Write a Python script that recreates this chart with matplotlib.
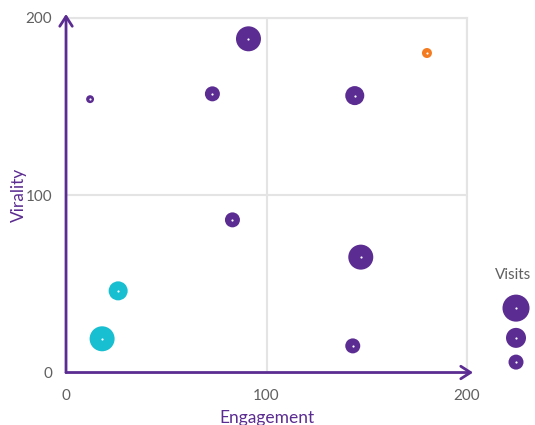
import numpy as np
import matplotlib.pyplot as plt

engagement = [12, 73, 91, 144, 180, 83, 147, 143, 26, 18]
virality = [154, 157, 188, 156, 180, 86, 65, 15, 46, 19]
visits = [10, 36, 100, 58, 16, 36, 100, 36, 58, 100]
groups = ['core', 'core', 'core', 'core', 'hot', 'core', 'core', 'core', 'new', 'new']
legend_visits = [117, 64, 36]

PURPLE = '#5b2c91'
colors = {'core': PURPLE, 'hot': '#f47b20', 'new': '#17bfd1'}
SCALE = 3.24  # points^2 per visit

plt.rcParams['font.family'] = ['Lato', 'DejaVu Sans']

fig = plt.figure(figsize=(5.35, 4.25), dpi=100)
ax = fig.add_axes([0.1234, 0.1235, 0.7496, 0.8353])

ax.set_xlim(0, 200)
ax.set_ylim(0, 200)
ax.set_xticks([0, 100, 200])
ax.set_yticks([0, 100, 200])
ax.grid(True, color='#e4e4e4', linewidth=1.5)
ax.set_axisbelow(True)
for side in ax.spines.values():
    side.set_visible(False)
ax.tick_params(length=0, labelsize=11, labelcolor='#606060')
ax.tick_params(axis='x', pad=12)
ax.tick_params(axis='y', pad=10)
# frame lines at the top and right limits
ax.axhline(200, color='#e4e4e4', linewidth=1.5, clip_on=False)
ax.axvline(200, color='#e4e4e4', linewidth=1.5, clip_on=False)

col = [colors[g] for g in groups]
ax.scatter(engagement, virality, s=[v * SCALE for v in visits], c=col,
           linewidths=0, zorder=3, clip_on=False)
ax.scatter(engagement, virality, s=2.5, c='white', linewidths=0, zorder=4, clip_on=False)

# axis arrows
arrow = dict(arrowstyle='->,head_length=0.7,head_width=0.45', color=PURPLE, lw=2,
             shrinkA=0, shrinkB=0)
ax.annotate('', xy=(203, 0), xytext=(0, 0), arrowprops=arrow, annotation_clip=False, zorder=5)
ax.annotate('', xy=(0, 202), xytext=(0, 0), arrowprops=arrow, annotation_clip=False, zorder=5)

ax.set_xlabel('Engagement', color=PURPLE, fontsize=12.5)
ax.set_ylabel('Virality', color=PURPLE, fontsize=12.5)
ax.xaxis.set_label_coords(0.5, -0.105)
ax.yaxis.set_label_coords(-0.098, 0.5)

# size legend, placed in figure fractions
lax = fig.add_axes([0, 0, 1, 1], facecolor='none')
lax.set_xlim(0, 1)
lax.set_ylim(0, 1)
lax.axis('off')
ly = [0.275, 0.205, 0.148]
lax.scatter([0.9645] * 3, ly, s=[v * SCALE for v in legend_visits], c=PURPLE, linewidths=0)
lax.scatter([0.9645] * 3, ly, s=2.5, c='white', linewidths=0)
lax.text(0.925, 0.353, 'Visits', color='#606060', fontsize=11, va='center', ha='left')

fig.savefig('out.png', dpi=100)
